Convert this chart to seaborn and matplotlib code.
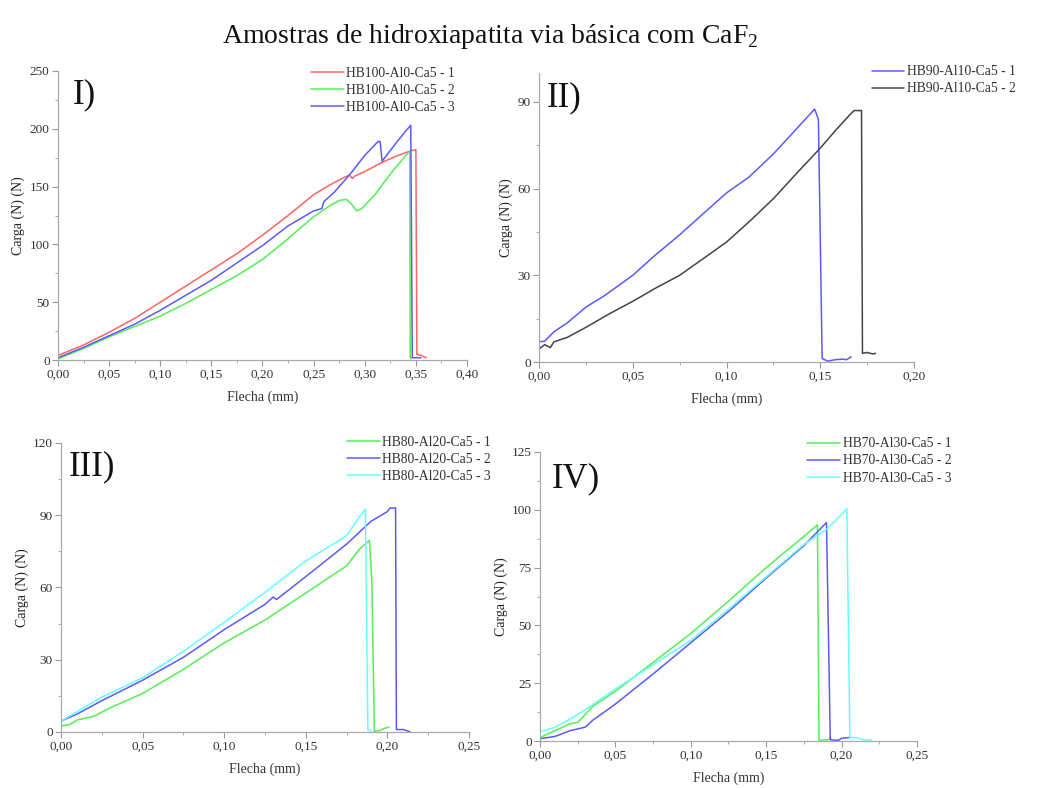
import numpy as np
import pandas as pd
import seaborn as sns
import matplotlib.pyplot as plt
from matplotlib.ticker import MultipleLocator, FuncFormatter

# ---- dados ----
# I) HB100-Al0-Ca5
x1_1 = [0, 0.025, 0.05, 0.075, 0.10, 0.125, 0.15, 0.175, 0.20, 0.225, 0.25, 0.265, 0.28, 0.285,
        0.288, 0.29, 0.30, 0.317, 0.33, 0.345, 0.350, 0.351, 0.355, 0.36]
y1_1 = [4, 13, 24, 36, 50, 64, 78, 92, 108, 125, 143, 151, 158, 160,
        157, 159, 163, 171, 176, 181, 182, 5, 4, 2]
x1_2 = [0, 0.025, 0.05, 0.075, 0.10, 0.125, 0.15, 0.175, 0.20, 0.225, 0.25, 0.265, 0.275, 0.282,
        0.287, 0.292, 0.297, 0.31, 0.325, 0.344, 0.3445, 0.3455]
y1_2 = [1, 10, 20, 29, 38, 49, 61, 73, 87, 105, 124, 133, 138, 139,
        135, 129, 131, 143, 161, 181, 2, 1]
x1_3 = [0, 0.025, 0.05, 0.075, 0.10, 0.125, 0.15, 0.175, 0.20, 0.225, 0.25, 0.258, 0.26, 0.27,
        0.285, 0.30, 0.313, 0.315, 0.317, 0.33, 0.34, 0.345, 0.3465, 0.355]
y1_3 = [2, 11, 21, 31, 43, 56, 69, 84, 99, 116, 129, 131, 137, 145,
        160, 177, 189, 189, 172, 187, 198, 203, 2, 2]

# II) HB90-Al10-Ca5
x2_1 = [0, 0.003, 0.008, 0.015, 0.025, 0.035, 0.05, 0.062, 0.075, 0.087, 0.10, 0.112, 0.125,
        0.135, 0.142, 0.147, 0.149, 0.151, 0.154, 0.158, 0.162, 0.164, 0.1665]
y2_1 = [7, 7.2, 10.5, 13.5, 19, 23, 30, 37, 44, 51, 58.5, 64, 72,
        79, 84, 87.5, 84, 1.2, 0.3, 0.8, 1, 0.8, 1.8]
x2_2 = [0, 0.003, 0.006, 0.008, 0.015, 0.025, 0.037, 0.05, 0.062, 0.075, 0.087, 0.10, 0.112,
        0.125, 0.137, 0.15, 0.158, 0.165, 0.168, 0.172, 0.1725, 0.175, 0.178, 0.1795]
y2_2 = [4.5, 6, 5, 7, 8.5, 12, 16.5, 21, 25.5, 30, 35.5, 41.5, 48.5,
        56.5, 65, 74, 80, 85, 87, 87, 3, 3.3, 2.8, 3]

# III) HB80-Al20-Ca5
x3_1 = [0, 0.005, 0.01, 0.02, 0.03, 0.05, 0.075, 0.10, 0.125, 0.15, 0.175, 0.183, 0.189,
        0.1905, 0.192, 0.195, 0.198, 0.201]
y3_1 = [2.5, 3, 5, 6.5, 10, 16, 26, 37, 46.5, 57.7, 69, 76, 79.5,
        62, 0.3, 0.5, 1.5, 2]
x3_2 = [0, 0.01, 0.025, 0.05, 0.075, 0.10, 0.125, 0.13, 0.132, 0.15, 0.175, 0.19, 0.20, 0.2015,
        0.205, 0.2055, 0.21, 0.214]
y3_2 = [4.5, 7.5, 13, 21.5, 31, 42.5, 53, 56, 55, 64.5, 78, 87.5, 91.5, 93,
        93, 1, 1, 0]
x3_3 = [0, 0.01, 0.025, 0.05, 0.075, 0.10, 0.125, 0.15, 0.175, 0.183, 0.1865, 0.188, 0.19]
y3_3 = [4.5, 8.5, 14.5, 22.5, 33.5, 45.5, 58, 71, 81.5, 89.5, 92.5, 1, 0.3]

# IV) HB70-Al30-Ca5
x4_1 = [0, 0.01, 0.02, 0.025, 0.035, 0.05, 0.075, 0.10, 0.125, 0.15, 0.175, 0.184, 0.185,
        0.19, 0.193]
y4_1 = [1.5, 4.5, 7.5, 8, 15, 21.5, 34, 46.5, 60.5, 75, 88.5, 93.5, 0.4, 0.5, 1]
x4_2 = [0, 0.005, 0.01, 0.02, 0.03, 0.035, 0.05, 0.075, 0.10, 0.125, 0.15, 0.175, 0.19,
        0.1925, 0.198, 0.20, 0.205]
y4_2 = [1, 1.5, 2, 4.5, 6, 9, 16, 29, 42.5, 56, 70.5, 84.5, 94.5,
        0.5, 0.3, 1.2, 1.5]
x4_3 = [0, 0.01, 0.02, 0.03, 0.05, 0.075, 0.10, 0.125, 0.15, 0.175, 0.19, 0.20, 0.2035,
        0.2055, 0.21, 0.215, 0.22]
y4_3 = [4, 6, 9.5, 13.5, 22.5, 33, 43.5, 57, 71, 85, 91.5, 98, 100.5,
        1.5, 1.5, 0.5, 0.5]

RED, GREEN, BLUE, GRAY, CYAN = '#ff6464', '#55ee55', '#5a5aff', '#444444', '#66ffff'

panels = [
    dict(label='I)', pos=[0.0548, 0.5431, 0.3866, 0.3668], xlim=(0, 0.40), ylim=(0, 250),
         ymaj=50, ymin=25, lab_xy=(0.035, 0.975), leg=(0.294, 0.915),
         series=[(x1_1, y1_1, 'HB100-Al0-Ca5 - 1', RED),
                 (x1_2, y1_2, 'HB100-Al0-Ca5 - 2', GREEN),
                 (x1_3, y1_3, 'HB100-Al0-Ca5 - 3', BLUE)]),
    dict(label='II)', pos=[0.5095, 0.5406, 0.3544, 0.3668], xlim=(0, 0.20), ylim=(0, 100),
         ymaj=30, ymin=15, lab_xy=(0.02, 0.97), leg=(0.824, 0.917),
         series=[(x2_1, y2_1, 'HB90-Al10-Ca5 - 1', BLUE),
                 (x2_2, y2_2, 'HB90-Al10-Ca5 - 2', GRAY)]),
    dict(label='III)', pos=[0.0577, 0.0711, 0.3856, 0.3668], xlim=(0, 0.25), ylim=(0, 120),
         ymaj=30, ymin=15, lab_xy=(0.02, 0.975), leg=(0.328, 0.447),
         series=[(x3_1, y3_1, 'HB80-Al20-Ca5 - 1', GREEN),
                 (x3_2, y3_2, 'HB80-Al20-Ca5 - 2', BLUE),
                 (x3_3, y3_3, 'HB80-Al20-Ca5 - 3', CYAN)]),
    dict(label='IV)', pos=[0.5104, 0.0596, 0.3563, 0.3668], xlim=(0, 0.25), ylim=(0, 125),
         ymaj=25, ymin=12.5, lab_xy=(0.03, 0.965), leg=(0.763, 0.445),
         series=[(x4_1, y4_1, 'HB70-Al30-Ca5 - 1', GREEN),
                 (x4_2, y4_2, 'HB70-Al30-Ca5 - 2', BLUE),
                 (x4_3, y4_3, 'HB70-Al30-Ca5 - 3', CYAN)]),
]

sns.set_style('ticks')
plt.rcParams['font.family'] = ['Liberation Serif', 'DejaVu Serif']
plt.rcParams['mathtext.fontset'] = 'custom'
plt.rcParams['mathtext.rm'] = 'Liberation Serif'

fig = plt.figure(figsize=(10.58, 7.88), dpi=100)
comma = FuncFormatter(lambda v, p: f'{v:.2f}'.replace('.', ','))

for pn in panels:
    ax = fig.add_axes(pn['pos'])
    for xs, ys, name, col in pn['series']:
        df = pd.DataFrame({'x': xs, 'y': ys})
        sns.lineplot(data=df, x='x', y='y', ax=ax, color=col, label=name,
                     sort=False, estimator=None, linewidth=1.1)
    ax.set_xlim(*pn['xlim'])
    ax.set_ylim(*pn['ylim'])
    ax.xaxis.set_major_locator(MultipleLocator(0.05))
    ax.xaxis.set_minor_locator(MultipleLocator(0.025))
    ax.xaxis.set_major_formatter(comma)
    ax.yaxis.set_major_locator(MultipleLocator(pn['ymaj']))
    ax.yaxis.set_minor_locator(MultipleLocator(pn['ymin']))
    sns.despine(ax=ax)
    for s in ('left', 'bottom'):
        ax.spines[s].set_color('#aaaaaa')
        ax.spines[s].set_linewidth(0.9)
    ax.tick_params(which='major', length=4, width=0.8, color='#999999',
                   labelsize=9.5, labelcolor='#333333', pad=2)
    ax.tick_params(which='minor', length=2.5, width=0.7, color='#aaaaaa')
    ax.set_xlabel('Flecha (mm)', fontsize=10, color='#333333', labelpad=7)
    ax.set_ylabel('Carga (N) (N)', fontsize=10, color='#222222', labelpad=3)
    ax.text(pn['lab_xy'][0], pn['lab_xy'][1], pn['label'], transform=ax.transAxes,
            fontsize=25, va='top', ha='left', color='#111111')
    ax.legend(loc='upper left', bbox_to_anchor=pn['leg'], bbox_transform=fig.transFigure,
              frameon=False, fontsize=9.8, handlelength=2.4, handletextpad=0.2,
              borderaxespad=0, borderpad=0, labelspacing=0.3, labelcolor='#333333')

fig.text(0.463, 0.972, r'Amostras de hidroxiapatita via básica com CaF$_2$',
         ha='center', va='top', fontsize=20, color='#111111')

fig.savefig('out.png', dpi=100)
